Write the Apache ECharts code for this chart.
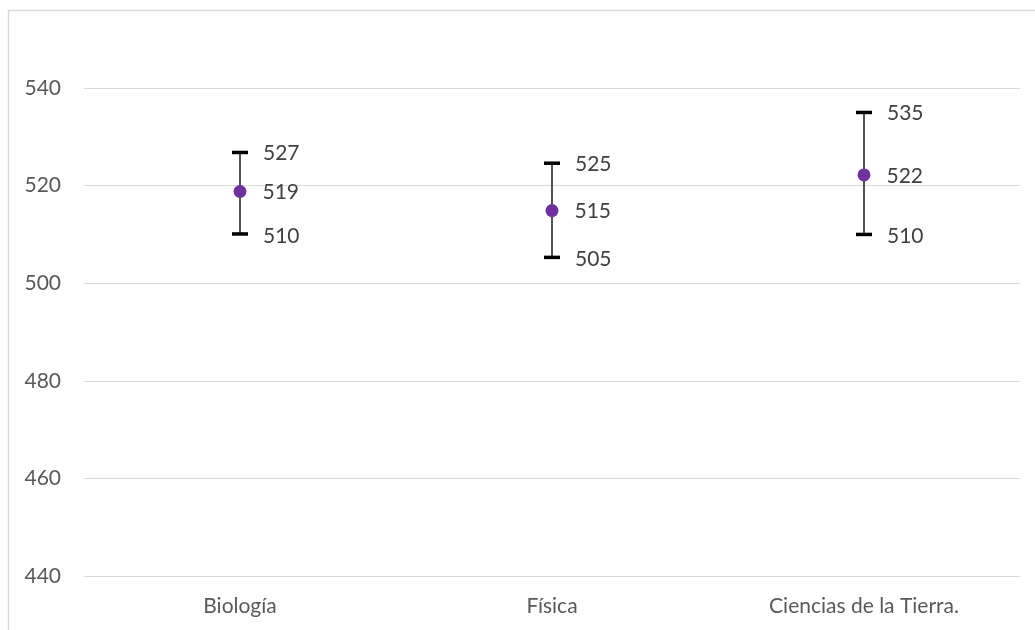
<!DOCTYPE html>
<html>
<head>
<meta charset="utf-8">
<script src="https://cdn.jsdelivr.net/npm/echarts@6/dist/echarts.min.js"></script>
<style>html,body{margin:0;padding:0;background:#fff;}#c{width:1035px;height:630px;}</style>
</head>
<body>
<div id="c"></div>
<script>
const categories = ['Biología', 'Física', 'Ciencias de la Tierra.'];
const means = [518.8, 514.9, 522.2];
const highs = [526.8, 524.6, 535.0];
const lows = [510.1, 505.3, 510.0];
const yTicks = [440, 460, 480, 500, 520, 540];

const FONT = 'Lato';
const FS = 21;
const chart = echarts.init(document.getElementById('c'));
const barData = categories.map((c, i) => [i, lows[i], highs[i]]);
const meanData = categories.map((c, i) => [i, means[i]]);

chart.setOption({
  animation: false,
  graphic: [{
    type: 'polyline',
    shape: { points: [[8.5, 630], [8.5, 10.5], [1035, 10.5]] },
    style: { stroke: '#d9d9d9', lineWidth: 1.5, fill: null },
    z: 10
  }],
  grid: { left: 84, right: 15, top: 10, bottom: 54 },
  xAxis: {
    type: 'category',
    data: categories,
    boundaryGap: true,
    axisLine: { show: true, lineStyle: { color: '#d9d9d9', width: 1 } },
    axisTick: { show: false },
    axisLabel: { color: '#595959', fontFamily: FONT, fontSize: FS, margin: 20 }
  },
  yAxis: {
    type: 'value',
    min: 440, max: 556, interval: 20,
    axisLine: { show: false },
    axisTick: { show: false },
    axisLabel: {
      color: '#595959', fontFamily: FONT, fontSize: FS, margin: 23,
      formatter: v => yTicks.indexOf(v) >= 0 ? String(v) : ''
    },
    splitLine: { lineStyle: { color: '#d9d9d9', width: 1 } }
  },
  series: [{
    type: 'custom',
    data: barData,
    z: 2,
    renderItem: function (params, api) {
      const x = api.value(0);
      const lo = api.coord([x, api.value(1)]);
      const hi = api.coord([x, api.value(2)]);
      const hw = 8;
      return {
        type: 'group',
        children: [
          { type: 'line', shape: { x1: lo[0], y1: lo[1], x2: hi[0], y2: hi[1] }, style: { stroke: '#404040', lineWidth: 1.8 } },
          { type: 'line', shape: { x1: lo[0] - hw, y1: lo[1], x2: lo[0] + hw, y2: lo[1] }, style: { stroke: '#000', lineWidth: 3.5 } },
          { type: 'line', shape: { x1: hi[0] - hw, y1: hi[1], x2: hi[0] + hw, y2: hi[1] }, style: { stroke: '#000', lineWidth: 3.5 } },
          { type: 'text', style: { x: hi[0] + 23, y: hi[1] + 1, text: String(Math.round(api.value(2))), fill: '#404040', font: FS + 'px ' + FONT, verticalAlign: 'middle', align: 'left' } },
          { type: 'text', style: { x: lo[0] + 23, y: lo[1] + 2, text: String(Math.round(api.value(1))), fill: '#404040', font: FS + 'px ' + FONT, verticalAlign: 'middle', align: 'left' } }
        ]
      };
    }
  }, {
    type: 'scatter',
    data: meanData,
    symbol: 'circle',
    symbolSize: 13,
    z: 3,
    itemStyle: { color: '#7030A0', opacity: 1 },
    label: {
      show: true, position: 'right', distance: 16, offset: [0, 1],
      color: '#404040', fontFamily: FONT, fontSize: FS,
      formatter: p => String(Math.round(p.value[1]))
    }
  }]
});
</script>
</body>
</html>
